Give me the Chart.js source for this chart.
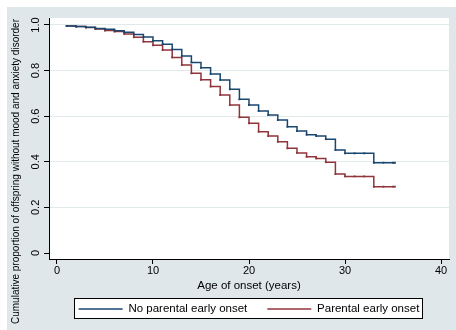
<!DOCTYPE html>
<html lang="en">
<head>
  <meta charset="utf-8" />
  <title>Cumulative proportion of offspring without mood and anxiety disorder</title>
  <style>
html, body { margin: 0; padding: 0; background: #fff; }
  </style>
</head>
<body>
  <canvas id="myChart" width="456" height="330"></canvas>
  <script src="https://cdn.jsdelivr.net/npm/chart.js"></script>
  <script>
// step points (age in years) and the proportion still without disorder
const ages = [1, 2, 3, 4, 5, 6, 7, 8, 9, 10, 11, 12, 13, 14, 15, 16, 17, 18, 19, 20,
              21, 22, 23, 24, 25, 26, 27, 28, 29, 30, 31, 32, 33, 34, 35, 35.2];
const noParental = [0.996, 0.993, 0.990, 0.985, 0.981, 0.975, 0.968, 0.958, 0.947, 0.931,
                    0.916, 0.893, 0.864, 0.836, 0.812, 0.785, 0.759, 0.718, 0.674, 0.649,
                    0.623, 0.605, 0.583, 0.554, 0.535, 0.519, 0.513, 0.499, 0.452, 0.437,
                    0.437, 0.437, 0.396, 0.396, 0.396, 0.396];
const parental = [0.996, 0.993, 0.989, 0.982, 0.976, 0.971, 0.961, 0.946, 0.927, 0.911,
                  0.890, 0.858, 0.825, 0.788, 0.760, 0.730, 0.693, 0.649, 0.595, 0.569,
                  0.532, 0.513, 0.488, 0.459, 0.439, 0.422, 0.415, 0.398, 0.346, 0.336,
                  0.336, 0.336, 0.291, 0.291, 0.291, 0.291];
const seriesLabels = ['No parental early onset', 'Parental early onset'];
const xTicks = [0, 10, 20, 30, 40];
const yTicks = [0, 0.2, 0.4, 0.6, 0.8, 1.0];
const yTickLabels = ['0', '0.2', '0.4', '0.6', '0.8', '1.0'];
const xTitle = 'Age of onset (years)';
const yTitle = 'Cumulative proportion of offspring without mood and anxiety disorder';

const FONT = "'Liberation Sans', Arial, sans-serif";
const regionColor = '#dfe7ea';
const gridColor = '#e2e9eb';
const navy = '#1a476f';
const maroon = '#90353b';

// backgrounds, legend frame and the rotated y title (stata look)
const stataLook = {
  id: 'stataLook',
  beforeDraw(chart) {
    const ctx = chart.ctx;
    const a = chart.chartArea;
    ctx.save();
    ctx.fillStyle = '#fff';
    ctx.fillRect(0, 0, chart.width, chart.height);
    ctx.fillStyle = regionColor;
    ctx.fillRect(7, 7, chart.width - 7, chart.height - 7);
    ctx.fillStyle = '#fff';
    ctx.fillRect(a.left, a.top, a.right - a.left, a.bottom - a.top);

    const lg = chart.legend;
    const pad = lg.options.labels.padding;
    const w = lg.lineWidths[0];
    const x0 = (lg.left + pad + lg.right - w) / 2;
    const cy = lg.top + pad + lg.options.labels.font.size / 2;
    const bx = Math.round(x0 - 5) + 0.5;
    const by = Math.round(cy - 11) + 0.5;
    const bw = Math.round(w - pad + 7);
    ctx.fillRect(bx, by, bw, 20);
    ctx.strokeStyle = '#000';
    ctx.lineWidth = 1;
    ctx.strokeRect(bx, by, bw, 20);

    ctx.translate(16.5, 171.5);
    ctx.rotate(-Math.PI / 2);
    ctx.fillStyle = '#000';
    ctx.font = '10px ' + FONT;
    ctx.textAlign = 'center';
    ctx.textBaseline = 'middle';
    ctx.fillText(yTitle, 0, 0);
    ctx.restore();
  }
};

const makeSet = (label, values, color) => ({
  label: label,
  data: ages.map((a, i) => ({x: a, y: values[i]})),
  borderColor: color,
  backgroundColor: color,
  borderWidth: 1.5,
  stepped: true,
  fill: false,
  pointStyle: 'rect',
  pointRadius: 1.3,
  pointBorderWidth: 0,
  pointHoverRadius: 0
});

const chart = new Chart(document.getElementById('myChart'), {
  type: 'line',
  data: {
    datasets: [
      makeSet(seriesLabels[0], noParental, navy),
      makeSet(seriesLabels[1], parental, maroon)
    ]
  },
  options: {
    responsive: false,
    animation: false,
    layout: { padding: { left: 0, right: 7, top: 18, bottom: 5.25 } },
    plugins: {
      tooltip: { enabled: false },
      legend: {
        position: 'bottom',
        fullSize: false,
        labels: {
          usePointStyle: true,
          pointStyle: 'line',
          pointStyleWidth: 44,
          padding: 20,
          color: '#000',
          font: { family: FONT, size: 11.5 },
          generateLabels: c => Chart.defaults.plugins.legend.labels.generateLabels(c).map(item => {
            const ds = c.data.datasets[item.datasetIndex];
            item.lineWidth = 1.5;
            item.strokeStyle = ds.borderColor;
            item.pointStyle = 'line';
            return item;
          })
        }
      }
    },
    scales: {
      x: {
        type: 'linear',
        min: -0.833,
        max: 40.833,
        afterBuildTicks: s => { s.ticks = xTicks.map(v => ({value: v})); },
        afterFit: s => { s.height = 24.25; },
        border: { display: true, color: '#000', width: 1 },
        grid: { drawOnChartArea: false, tickColor: '#000', tickLength: 5, tickWidth: 1 },
        ticks: { color: '#000', padding: 0, maxRotation: 0, autoSkip: false,
                 font: { family: FONT, size: 11 } },
        title: { display: true, text: xTitle, color: '#000',
                 font: { family: FONT, size: 11.5 }, padding: { top: 0, bottom: -9.35 } }
      },
      y: {
        type: 'linear',
        min: -0.0263,
        max: 1.0307,
        afterBuildTicks: s => { s.ticks = yTicks.map(v => ({value: v})); },
        afterFit: s => { s.width = 49; },
        border: { display: true, color: '#000', width: 1 },
        grid: {
          color: c => (c.tick && c.tick.value === 0) ? 'rgba(0,0,0,0)' : gridColor,
          tickColor: '#000', tickLength: 5, lineWidth: 1
        },
        ticks: {
          callback: (v, i) => yTickLabels[i],
          minRotation: 90, maxRotation: 90, crossAlign: 'center',
          padding: 0, autoSkip: false, color: '#000',
          font: { family: FONT, size: 11 }
        }
      }
    }
  },
  plugins: [stataLook]
});
  </script>
</body>
</html>
